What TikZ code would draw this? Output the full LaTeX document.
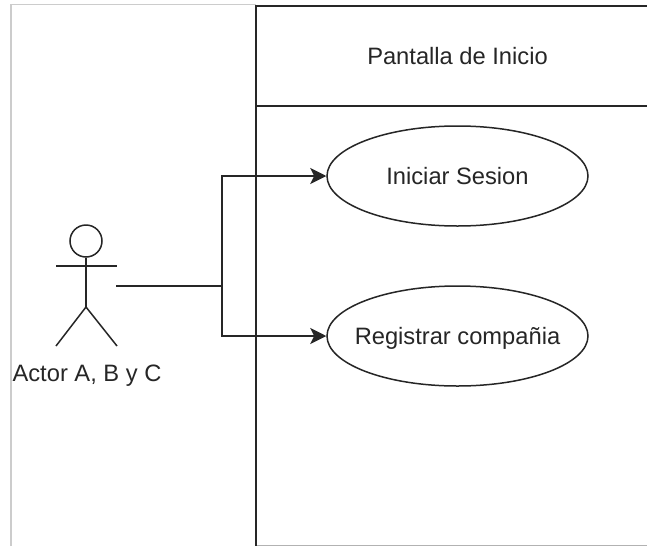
\documentclass[tikz,border=0pt]{standalone}
\usepackage{fontspec}
\setmainfont{Liberation Sans}
\usetikzlibrary{arrows.meta,shapes.geometric}
\tikzset{
  x=1pt,y=-1pt,
  ink/.style={draw=black!85,line width=1.5pt},
  frameline/.style={draw=black!20,line width=1.3pt},
  usecase/.style={ink,ellipse,minimum width=261pt,minimum height=100pt,inner sep=0pt,fill=white},
  lbl/.style={font=\fontsize{23.7}{26}\selectfont,text=black!85,inner sep=0pt},
  flow/.style={ink,-{Stealth[length=16pt,width=16pt,inset=4pt]}},
}
\begin{document}
\begin{tikzpicture}
\useasboundingbox (0,0) rectangle (647,546);
\fill[white] (0,0) rectangle (647,546);
% outer frame
\draw[frameline] (11,546) -- (11,4.5) -- (256,4.5);
\draw[draw=black!30,line width=1pt] (256,545) -- (647,545);
% screen container
\draw[ink] (647,6) -- (256,6) -- (256,546);
\draw[ink] (256,106) -- (647,106);
\node[lbl] (title) at (457.5,56) {Pantalla de Inicio};
% use cases
\node[usecase] (uc1) at (457.5,176) {};
\node[usecase] (uc2) at (457.5,336) {};
\node[lbl] at (457.5,176) {Iniciar Sesion};
\node[lbl] at (457.5,338) {Registrar compañia};
% actor
\node[ink,circle,minimum size=32pt,inner sep=0pt] (head) at (86,241) {};
\coordinate (hip) at (86,307);
\coordinate (armL) at (56,266);
\coordinate (armR) at (117,266);
\coordinate (legL) at (56,346);
\coordinate (legR) at (117,346);
\draw[ink] (head.south) -- (hip);
\draw[ink] (armL) -- (armR);
\draw[ink] (legL) -- (hip) -- (legR);
\node[lbl] (actor) at (87,376) {Actor A, B y C};
% connectors
\coordinate (src) at (116,286);
\coordinate (junc) at (222,286);
\draw[ink] (src) -- (junc);
\draw[flow] (junc) |- (uc1.west);
\draw[flow] (junc) |- (uc2.west);
\end{tikzpicture}
\end{document}
